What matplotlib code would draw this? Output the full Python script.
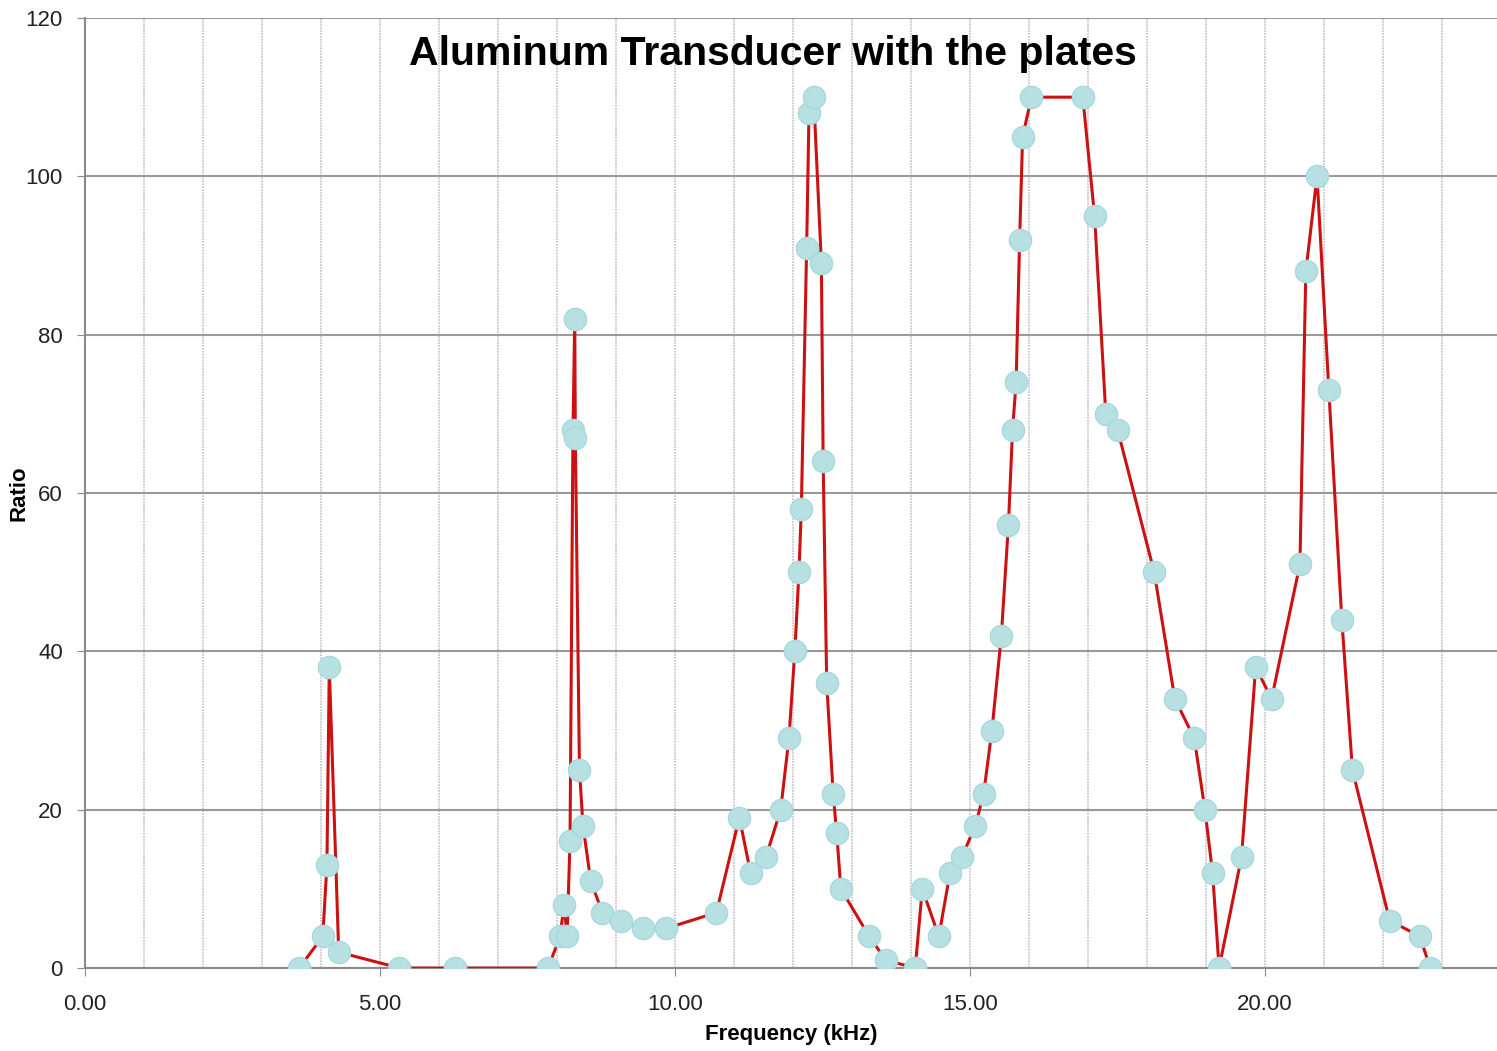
import matplotlib
matplotlib.use("Agg")
import matplotlib.pyplot as plt
from matplotlib.ticker import MultipleLocator, FormatStrFormatter

# frequency sweep (kHz) and measured ratio
freq_khz = [3.63, 4.03, 4.10, 4.14, 4.30, 5.33, 6.27, 7.85,
            8.05, 8.12, 8.17, 8.22, 8.27, 8.30, 8.31, 8.38, 8.44, 8.57,
            8.77, 9.09, 9.45, 9.85, 10.70, 11.09, 11.28, 11.54, 11.79,
            11.93, 12.03, 12.10, 12.14, 12.23, 12.27, 12.35, 12.48, 12.51,
            12.57, 12.68, 12.74, 12.81, 13.29, 13.57, 14.07, 14.19, 14.47,
            14.66, 14.86, 15.09, 15.23, 15.37, 15.53, 15.65, 15.72, 15.78,
            15.84, 15.89, 16.04, 16.91, 17.11, 17.30, 17.50, 18.12, 18.47,
            18.80, 18.98, 19.11, 19.22, 19.60, 19.84, 20.11, 20.59, 20.69,
            20.88, 21.08, 21.30, 21.48, 22.11, 22.62, 22.80]
ratio = [0, 4, 13, 38, 2, 0, 0, 0,
         4, 8, 4, 16, 68, 82, 67, 25, 18, 11,
         7, 6, 5, 5, 7, 19, 12, 14, 20,
         29, 40, 50, 58, 91, 108, 110, 89, 64,
         36, 22, 17, 10, 4, 1, 0, 10, 4,
         12, 14, 18, 22, 30, 42, 56, 68, 74,
         92, 105, 110, 110, 95, 70, 68, 50, 34,
         29, 20, 12, 0, 14, 38, 34, 51, 88,
         100, 73, 44, 25, 6, 4, 0]

tick_font = ['Liberation Sans Narrow', 'Liberation Sans', 'DejaVu Sans']
label_font = ['Liberation Sans', 'DejaVu Sans']

fig = plt.figure(figsize=(14.97, 10.51), dpi=100)
ax = fig.add_axes([85 / 1497, 83 / 1051, 1 - 85 / 1497, 950 / 1051])

ax.plot(freq_khz, ratio, color='#cc1111', linewidth=2.2, zorder=3,
        marker='o', markersize=16, markerfacecolor='#b7e0e3',
        markeredgecolor='#a9d8dc', markeredgewidth=1)

ax.set_xlim(0, 23.93)
ax.set_ylim(0, 120)
ax.xaxis.set_major_locator(MultipleLocator(5))
ax.xaxis.set_minor_locator(MultipleLocator(1))
ax.xaxis.set_major_formatter(FormatStrFormatter('%.2f'))
ax.yaxis.set_major_locator(MultipleLocator(20))

ax.grid(True, which='major', axis='y', color='#9a9a9a', linewidth=1.5)
ax.grid(True, which='both', axis='x', color='#c8c8c8', linewidth=1.3,
        linestyle=(0, (1, 0.6)))
ax.set_axisbelow(True)

for side in ['top', 'right']:
    ax.spines[side].set_visible(False)
for side in ['left', 'bottom']:
    ax.spines[side].set_color('#8a8a8a')
    ax.spines[side].set_linewidth(1.5)

ax.tick_params(axis='both', which='major', length=6, color='#8a8a8a',
               labelsize=16)
ax.tick_params(axis='x', which='major', pad=13)
ax.tick_params(axis='y', which='major', pad=10)
ax.tick_params(axis='x', which='minor', length=0)
for lbl in ax.get_xticklabels() + ax.get_yticklabels():
    lbl.set_family(tick_font)
    lbl.set_color('#222222')

ax.set_xlabel('Frequency (kHz)', fontsize=16, fontweight='bold',
              family=label_font, labelpad=6)
ax.set_ylabel('Ratio', fontsize=16, fontweight='bold', family=label_font)
ax.yaxis.set_label_coords(-0.039, 0.5)

ax.text(0.487, 0.982, 'Aluminum Transducer with the plates',
        transform=ax.transAxes, ha='center', va='top',
        fontsize=29.5, fontweight='bold', family=label_font, color='black')

fig.savefig('out.png', dpi=100)
